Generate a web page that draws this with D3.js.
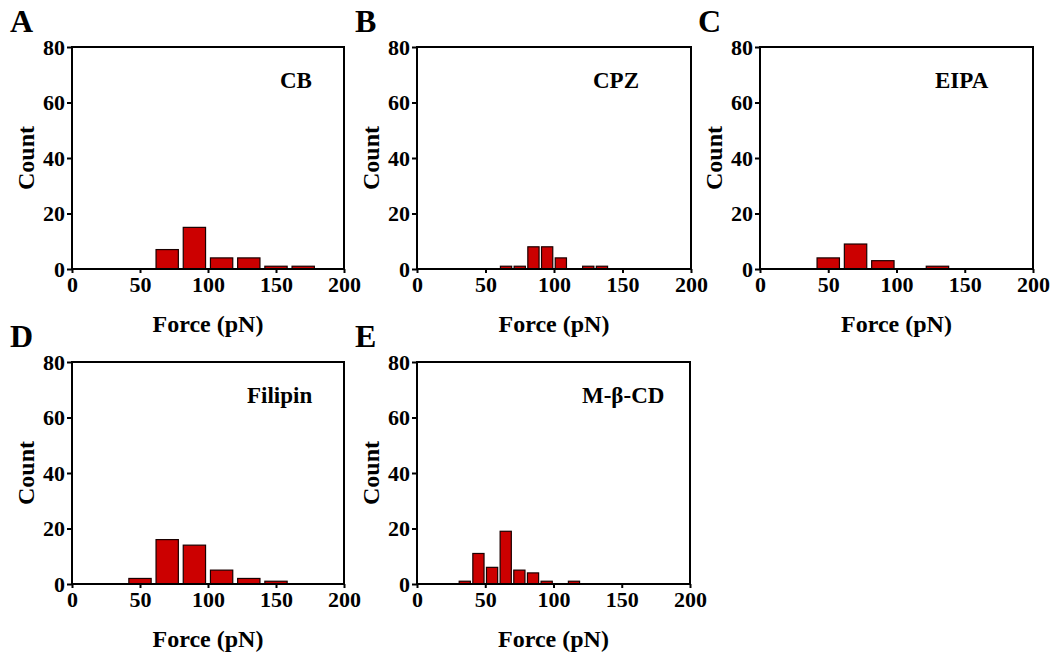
<!DOCTYPE html>
<html>
<head>
  <script type="text/javascript" src="https://cdn.jsdelivr.net/npm/d3@7"></script>
  <style>
    body { margin: 0; background: #fff; }
    text { font-family: "Liberation Serif", "Times New Roman", serif; font-weight: bold; fill: #000; }
  </style>
</head>
<body>
  <div id="viz"></div>
  <script type="text/javascript">

  // force histograms, one array of bin starts + counts per treatment
  var cbBins = [60, 80, 100, 120, 140, 160];
  var cbCounts = [7, 15, 4, 4, 1, 1];

  var cpzBins = [60, 70, 80, 90, 100, 120, 130];
  var cpzCounts = [1, 1, 8, 8, 4, 1, 1];

  var eipaBins = [40, 60, 80, 120];
  var eipaCounts = [4, 9, 3, 1];

  var filipinBins = [40, 60, 80, 100, 120, 140];
  var filipinCounts = [2, 16, 14, 5, 2, 1];

  var mbcdBins = [30, 40, 50, 60, 70, 80, 90, 110];
  var mbcdCounts = [1, 11, 6, 19, 5, 4, 1, 1];

  var xTicks = [0, 50, 100, 150, 200];
  var yTicks = [0, 20, 40, 60, 80];

  // panel layout (pixels), kept apart from the data
  var panels = [
    {letter: "A", name: "CB",      bins: cbBins,      counts: cbCounts,      binW: 20, x0: 72,  x1: 344,  y0: 47,  y1: 269, lx: 280},
    {letter: "B", name: "CPZ",     bins: cpzBins,     counts: cpzCounts,     binW: 10, x0: 417, x1: 691,  y0: 47,  y1: 269, lx: 593},
    {letter: "C", name: "EIPA",    bins: eipaBins,    counts: eipaCounts,    binW: 20, x0: 760, x1: 1033, y0: 47,  y1: 269, lx: 935},
    {letter: "D", name: "Filipin", bins: filipinBins, counts: filipinCounts, binW: 20, x0: 72,  x1: 344,  y0: 362, y1: 584, lx: 247},
    {letter: "E", name: "M-\u03b2-CD", bins: mbcdBins, counts: mbcdCounts,   binW: 10, x0: 417, x1: 690,  y0: 362, y1: 584, lx: 582}
  ];

  var svg = d3.select("#viz")
      .append("svg")
      .attr("width", 1056)
      .attr("height", 659);

  panels.forEach(function(p) {
    var x = d3.scaleLinear().domain([0, 200]).range([p.x0, p.x1]);
    var y = d3.scaleLinear().domain([0, 80]).range([p.y1, p.y0]);
    var g = svg.append("g");

    var data = p.bins.map(function(b, i) { return {b: b, c: p.counts[i]}; });
    var inset = p.binW * 0.09;

    g.selectAll("rect.bar")
      .data(data)
      .enter().append("rect")
        .attr("class", "bar")
        .attr("x", function(d) { return x(d.b + inset); })
        .attr("width", function(d) { return x(d.b + p.binW - inset) - x(d.b + inset); })
        .attr("y", function(d) { return y(d.c); })
        .attr("height", function(d) { return y(0) - y(d.c); })
        .style("fill", "#cc0000")
        .style("stroke", "#1a0000")
        .style("stroke-width", 1.2);

    // frame
    g.append("rect")
      .attr("x", p.x0).attr("y", p.y0)
      .attr("width", p.x1 - p.x0).attr("height", p.y1 - p.y0)
      .style("fill", "none").style("stroke", "#000").style("stroke-width", 2);

    var xAxis = g.append("g")
      .attr("transform", "translate(0," + p.y1 + ")")
      .call(d3.axisBottom(x).tickValues(xTicks).tickSize(4).tickPadding(3));
    var yAxis = g.append("g")
      .attr("transform", "translate(" + p.x0 + ",0)")
      .call(d3.axisLeft(y).tickValues(yTicks).tickSize(5).tickPadding(2));

    [xAxis, yAxis].forEach(function(a) {
      a.select(".domain").remove();
      a.selectAll(".tick line").style("stroke", "#000").style("stroke-width", 2);
      a.selectAll(".tick text")
        .style("font-family", "'Liberation Serif', serif")
        .style("font-weight", "bold")
        .style("font-size", "22px")
        .style("fill", "#000");
    });

    g.append("text")
      .attr("x", (p.x0 + p.x1) / 2)
      .attr("y", p.y1 + 63)
      .attr("text-anchor", "middle")
      .style("font-size", "24px")
      .text("Force (pN)");

    g.append("text")
      .attr("transform", "translate(" + (p.x0 - 38) + "," + ((p.y0 + p.y1) / 2) + ") rotate(-90)")
      .attr("text-anchor", "middle")
      .style("font-size", "24px")
      .text("Count");

    g.append("text")
      .attr("x", p.lx)
      .attr("y", p.y0 + 41)
      .style("font-size", "23px")
      .text(p.name);

    g.append("text")
      .attr("x", p.x0 - 62)
      .attr("y", p.y0 - 15)
      .style("font-size", "32px")
      .text(p.letter);
  });

  </script>
</body>
</html>
